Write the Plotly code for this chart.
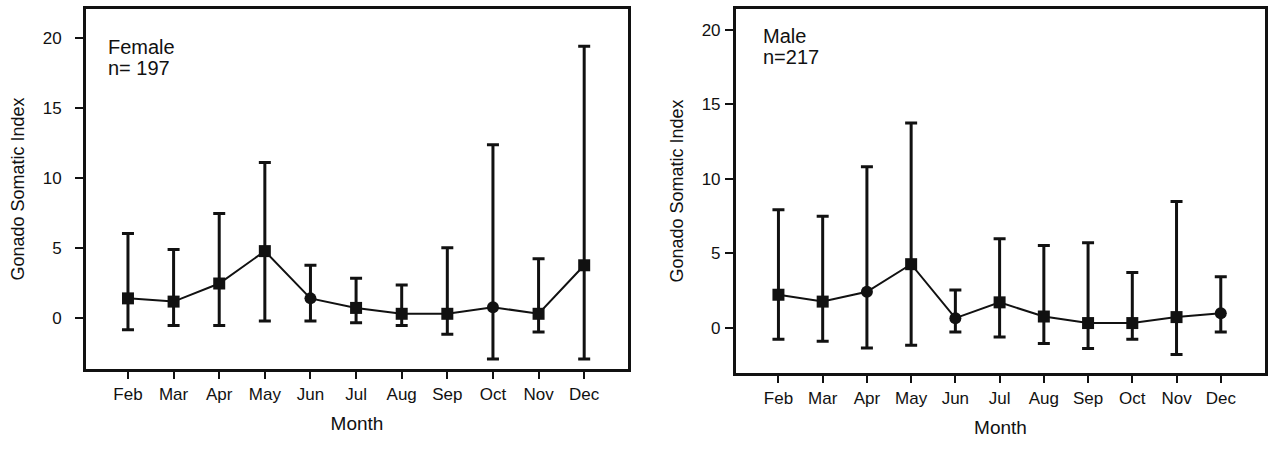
import plotly.graph_objects as go

months = ["Feb", "Mar", "Apr", "May", "Jun", "Jul", "Aug", "Sep", "Oct", "Nov", "Dec"]

female_mean = [1.41, 1.18, 2.47, 4.78, 1.41, 0.73, 0.31, 0.31, 0.78, 0.31, 3.77]
female_upper = [6.03, 4.90, 7.47, 11.10, 3.77, 2.85, 2.36, 5.02, 12.37, 4.24, 19.39]
female_lower = [-0.82, -0.52, -0.52, -0.21, -0.21, -0.33, -0.52, -1.15, -2.92, -0.99, -2.92]
female_symbols = ["square", "square", "square", "square", "circle", "square",
                  "square", "square", "circle", "square", "square"]

male_mean = [2.21, 1.75, 2.41, 4.26, 0.64, 1.70, 0.75, 0.31, 0.31, 0.71, 0.97]
male_upper = [7.91, 7.47, 10.79, 13.74, 2.53, 5.96, 5.52, 5.69, 3.70, 8.46, 3.41]
male_lower = [-0.78, -0.91, -1.36, -1.18, -0.29, -0.62, -1.06, -1.40, -0.78, -1.80, -0.29]
male_symbols = ["square", "square", "circle", "square", "circle", "square",
                "square", "square", "square", "square", "circle"]

yticks = [0, 5, 10, 15, 20]

FONT = "Liberation Sans, Arial, sans-serif"
INK = "#111111"

fig = go.Figure()


def add_series(mean, upper, lower, symbols, xa, ya):
    xs = list(range(len(months)))
    fig.add_trace(go.Scatter(
        x=xs, y=mean, xaxis=xa, yaxis=ya,
        mode="lines+markers",
        line=dict(color=INK, width=2),
        marker=dict(symbol=symbols, size=12, color=INK),
        error_y=dict(
            type="data", symmetric=False,
            array=[u - m for u, m in zip(upper, mean)],
            arrayminus=[m - l for m, l in zip(mean, lower)],
            color=INK, thickness=3, width=6,
        ),
        showlegend=False, hoverinfo="skip",
    ))


add_series(female_mean, female_upper, female_lower, female_symbols, "x", "y")
add_series(male_mean, male_upper, male_lower, male_symbols, "x2", "y2")

xcommon = dict(
    tickmode="array", tickvals=list(range(len(months))), ticktext=months,
    showgrid=False, zeroline=False,
    showline=True, linecolor=INK, linewidth=3, mirror=True,
    ticks="outside", ticklen=7, tickwidth=2, tickcolor=INK,
    tickfont=dict(family=FONT, size=17, color=INK),
    title=dict(text="Month", font=dict(family=FONT, size=19, color=INK), standoff=14),
    ticklabelstandoff=1,
)
ycommon = dict(
    tickmode="array", tickvals=yticks,
    showgrid=False, zeroline=False,
    showline=True, linecolor=INK, linewidth=3, mirror=True,
    ticks="outside", ticklen=8, tickwidth=2, tickcolor=INK,
    tickfont=dict(family=FONT, size=17, color=INK),
    title=dict(text="Gonado Somatic Index", font=dict(family=FONT, size=18, color=INK), standoff=14),
)


def label(text, xref, yref, x, y):
    return dict(text=text, xref=xref, yref=yref, x=x, y=y,
                xanchor="left", yanchor="middle", align="left",
                showarrow=False, font=dict(family=FONT, size=20, color=INK))


fig.update_layout(
    width=1286, height=454,
    paper_bgcolor="white", plot_bgcolor="white",
    margin=dict(l=86, r=21, t=6, b=81),
    xaxis=dict(xcommon, domain=[0, 0.4597], range=[-0.92, 10.96], anchor="y"),
    yaxis=dict(ycommon, domain=[0.0109, 1], range=[-3.63, 22.05], anchor="x",
               ticklabelstandoff=10),
    xaxis2=dict(xcommon, domain=[0.5513, 1], range=[-0.96, 11.0], anchor="y2"),
    yaxis2=dict(ycommon, domain=[0, 1], range=[-3.04, 21.38], anchor="x2",
                ticklabelstandoff=1),
    annotations=[
        label("Female", "x domain", "y domain", 0.037, 0.895),
        label("n= 197", "x domain", "y domain", 0.037, 0.837),
        label("Male", "x2 domain", "y2 domain", 0.047, 0.926),
        label("n=217", "x2 domain", "y2 domain", 0.047, 0.869),
    ],
)

fig.write_html(
    "out.html",
    config={"displayModeBar": False},
    post_script="document.body.style.margin='0';document.body.style.padding='0';",
)
